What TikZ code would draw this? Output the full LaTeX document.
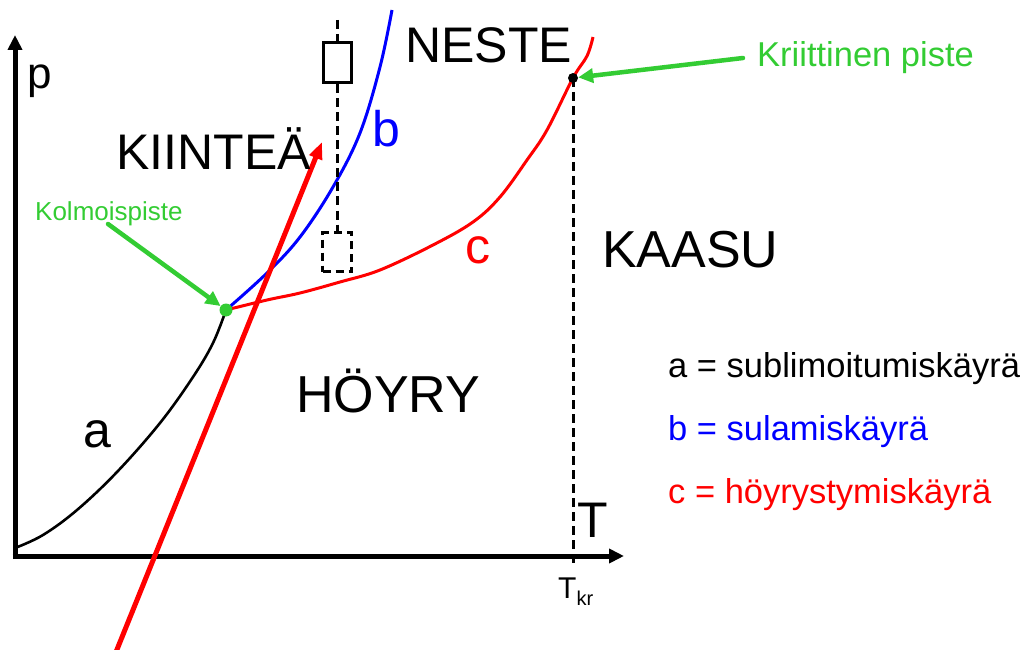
\documentclass[tikz,border=0pt]{standalone}
\usepackage{fontspec}
\setmainfont{Liberation Sans}
\usetikzlibrary{arrows.meta}
\definecolor{kgreen}{RGB}{51,204,51}
\definecolor{kred}{RGB}{255,0,0}
\definecolor{kblue}{RGB}{0,0,255}
\begin{document}
\begin{tikzpicture}[x=1pt,y=-1pt,
  axisline/.style={line width=5pt,-{Triangle[length=15pt,width=14pt]}},
  curve/.style={line width=3pt},
  dashline/.style={line width=3pt,dash pattern=on 9pt off 5pt},
  garrow/.style={kgreen,line width=4.5pt,line cap=round,-{Triangle[length=15pt,width=14pt]}},
  rarrow/.style={kred,line width=5pt,-{Triangle[length=17pt,width=13pt]}},
  big/.style={anchor=base west,inner sep=0pt,font=\fontsize{50}{50}\selectfont},
  legend/.style={anchor=base west,inner sep=0pt,font=\fontsize{34.5}{34.5}\selectfont},
  dot/.style={circle,inner sep=0pt,minimum size=#1},
]
\useasboundingbox (0,0) rectangle (1034,650);

% key points
\coordinate (ytip) at (15,35);
\coordinate (xtip) at (624,556);
\coordinate (astart) at (15,548);
\coordinate (tp) at (226,310);
\coordinate (kp) at (573,78);
\coordinate (tkrbot) at (573,566);

% axes
\draw[axisline] (15,559) -- (ytip);
\draw[axisline] (12.5,556) -- (xtip);

% curve a
\draw[curve,black,line width=2.6pt] plot[smooth,tension=0.6] coordinates {(astart) (43,535) (77,510) (117,472) (160,423) (193,377) (213,343) (tp)};
% curve b
\draw[curve,kblue] plot[smooth,tension=0.6] coordinates {(tp) (267,273) (300,237) (333,187) (360,133) (380,67) (392,10)};
% curve c
\draw[curve,kred] plot[smooth,tension=0.6] coordinates {(tp) (267,300) (300,293) (340,282) (380,270) (433,245) (473,222) (500,197) (527,160) (547,130) (kp) (587,56) (593,37)};

% critical dashed line
\draw[dashline] (kp) -- (tkrbot);

% boxes with dashed line
\coordinate (vtop) at (337,20);
\node[draw,line width=3pt,minimum width=28pt,minimum height=40pt,inner sep=0pt] (box1) at (337,63) {};
\node[draw,line width=3pt,dash pattern=on 8pt off 5pt,minimum width=29pt,minimum height=39pt,inner sep=0pt] (box2) at (337,252) {};
\draw[dashline] (vtop) -- (box1.north);
\draw[dashline] (box1.south) -- (box2.north);

% red straight arrow
\coordinate (rstart) at (116,652);
\coordinate (rend) at (322,142);
\draw[rarrow] (rstart) -- (rend);

% dots
\node[dot=13pt,fill=kgreen] (tpn) at (tp) {};
\node[dot=10pt,fill=black] (kpn) at (kp) {};

% green arrows and labels
\node[anchor=base west,inner sep=0pt,kgreen,font=\fontsize{26}{26}\selectfont] (kolmo) at (35,220) {Kolmoispiste};
\coordinate (ktail) at (108,224);
\draw[garrow] (ktail) -- (tpn);
\node[anchor=base west,inner sep=0pt,kgreen,font=\fontsize{34.5}{34.5}\selectfont] (krit) at (757,67) {Kriittinen piste};
\coordinate (kritail) at (743,58);
\draw[garrow] (kritail) -- (kpn);

% labels
\node[anchor=base west,inner sep=0pt,font=\fontsize{44}{44}\selectfont] (p) at (27,89) {p};
\node[big] (neste) at (405,63) {NESTE};
\node[big] (kiintea) at (116,170) {KIINTEÄ};
\node[big,kblue] (lb) at (372,147) {b};
\node[big,font=\fontsize{52}{52}\selectfont] (hoyry) at (296,412) {HÖYRY};
\node[big,font=\fontsize{52}{52}\selectfont] (kaasu) at (602,267) {KAASU};
\node[big,kred] (lc) at (465,263) {c};
\node[big] (la) at (83,447) {a};
\node[big] (T) at (577,537) {T};
\node[anchor=base west,inner sep=0pt,font=\fontsize{30}{30}\selectfont] (tkr) at (558,598) {T\raisebox{-0.25em}{\fontsize{20}{20}\selectfont kr}};

% legend
\node[legend] (la1) at (668,377) {a = sublimoitumiskäyrä};
\node[legend,kblue] (lb1) at (668,440) {b = sulamiskäyrä};
\node[legend,kred] (lc1) at (668,503) {c = höyrystymiskäyrä};
\end{tikzpicture}
\end{document}
